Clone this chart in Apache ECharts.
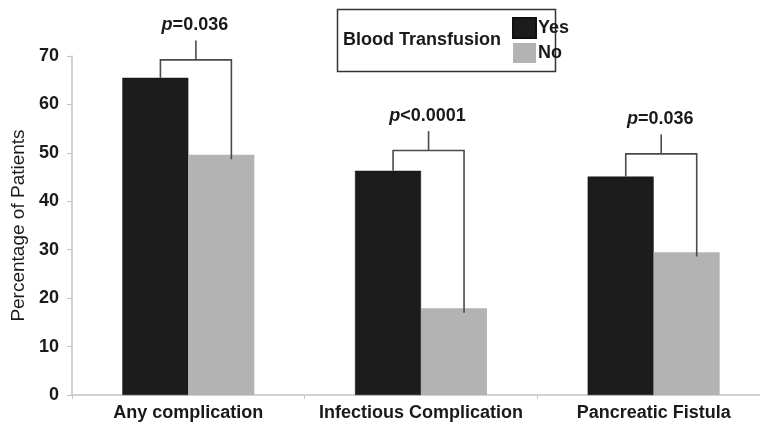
<!DOCTYPE html>
<html>
<head>
<meta charset="utf-8">
<script src="https://cdn.jsdelivr.net/npm/echarts@6/dist/echarts.min.js"></script>
<style>html,body{margin:0;padding:0;background:#fff;}#c{width:760px;height:433px;}</style>
</head>
<body>
<div id="c"></div>
<script>
const categories = ['Any complication', 'Infectious Complication', 'Pancreatic Fistula'];
const yesValues = [65.5, 46.3, 45.1];
const noValues = [49.6, 17.9, 29.5];
const bracketLevels = [69.2, 50.5, 49.8];
const pSigns = ['=0.036', '<0.0001', '=0.036'];
const yTicks = [0, 10, 20, 30, 40, 50, 60, 70];

const FONT = '"Liberation Sans", Arial, sans-serif';
const chart = echarts.init(document.getElementById('c'), null, {renderer: 'canvas'});

const bracketData = categories.map((c, i) => [i, bracketLevels[i], yesValues[i], noValues[i]]);

chart.setOption({
  animation: false,
  backgroundColor: '#fff',
  grid: {left: 72, top: 56, width: 698, bottom: 38, containLabel: false, outerBoundsMode: 'none'},
  title: {
    text: 'Blood Transfusion', left: 343, top: 31,
    textStyle: {fontFamily: FONT, fontWeight: 'bold', fontSize: 18, color: '#1a1a1a'}, padding: 0
  },
  legend: {
    orient: 'vertical', left: 512, top: 17, padding: 0,
    itemWidth: 23, itemHeight: 20, itemGap: 4, icon: 'rect',
    textStyle: {fontFamily: FONT, fontWeight: 'bold', fontSize: 18, color: '#1a1a1a', padding: [0, 0, 0, -3]},
    data: ['Yes', 'No']
  },
  graphic: [{
    type: 'rect', left: 335, top: 7,
    shape: {width: 218, height: 62},
    style: {fill: 'none', stroke: '#333', lineWidth: 1.5}, z: -1
  }],
  xAxis: {
    type: 'category', data: categories,
    axisLine: {lineStyle: {color: '#c4c4c4', width: 1.5}},
    axisTick: {show: true, length: 4, lineStyle: {color: '#c4c4c4'}},
    axisLabel: {interval: 0, fontFamily: FONT, fontWeight: 'bold', fontSize: 18, color: '#1a1a1a', margin: 9}
  },
  yAxis: {
    type: 'value', min: yTicks[0], max: yTicks[yTicks.length - 1], interval: 10,
    name: 'Percentage of Patients', nameLocation: 'middle', nameGap: 44,
    nameTextStyle: {fontFamily: FONT, fontSize: 19, color: '#1a1a1a'},
    splitLine: {show: false},
    axisLine: {show: true, lineStyle: {color: '#c4c4c4', width: 1.5}},
    axisTick: {show: true, length: 5, lineStyle: {color: '#c4c4c4'}},
    axisLabel: {fontFamily: FONT, fontWeight: 'bold', fontSize: 18, color: '#1a1a1a', margin: 13}
  },
  series: [
    {name: 'Yes', type: 'bar', data: yesValues, barWidth: 66, barGap: '0%',
     itemStyle: {color: '#1c1c1c', borderColor: '#111', borderWidth: 0.5}},
    {name: 'No', type: 'bar', data: noValues, barWidth: 66,
     itemStyle: {color: '#b3b3b3'}},
    {
      type: 'custom', data: bracketData, z: 5, silent: true,
      renderItem: function (params, api) {
        const i = api.value(0);
        const cx = api.coord([i, 0])[0];
        const bw = api.size([1, 0])[0];
        const xl = cx - 0.12 * bw;
        const xr = cx + 0.185 * bw;
        const xm = (xl + xr) / 2;
        const level = api.value(1);
        const yH = api.coord([i, level])[1];
        const yStub = api.coord([i, level + 4])[1];
        const yL = api.coord([i, api.value(2)])[1];
        const yR = api.coord([i, api.value(3) - 0.9])[1];
        const lineStyle = {stroke: '#4a4a4a', lineWidth: 1.6, fill: null};
        return {
          type: 'group',
          children: [
            {type: 'polyline', shape: {points: [[xl, yL], [xl, yH], [xr, yH], [xr, yR]]}, style: lineStyle},
            {type: 'line', shape: {x1: xm, y1: yH, x2: xm, y2: yStub}, style: lineStyle},
            {type: 'text', x: xm - 1, y: yStub - 15,
             style: {
               text: '{i|p}{n|' + pSigns[i] + '}',
               align: 'center', verticalAlign: 'middle',
               rich: {
                 i: {fontFamily: FONT, fontStyle: 'italic', fontWeight: 'bold', fontSize: 18, fill: '#1a1a1a', color: '#1a1a1a'},
                 n: {fontFamily: FONT, fontWeight: 'bold', fontSize: 18, fill: '#1a1a1a', color: '#1a1a1a'}
               }
             }}
          ]
        };
      }
    }
  ],
  color: ['#1c1c1c', '#b3b3b3']
});
</script>
</body>
</html>
